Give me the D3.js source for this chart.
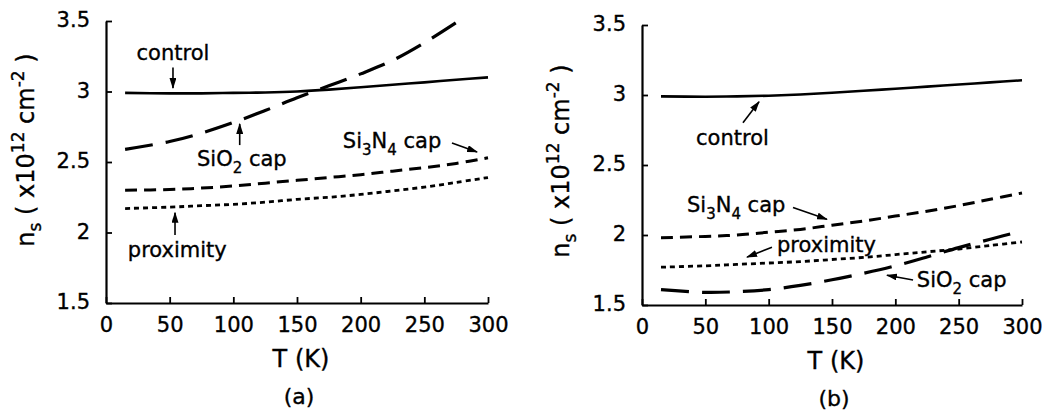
<!DOCTYPE html>
<html>
<head>
<meta charset="utf-8">
<script src="https://cdn.jsdelivr.net/npm/d3@7/dist/d3.min.js"></script>
<style>
  html, body { margin: 0; padding: 0; background: #fff; }
  svg { display: block; }
  text { font-family: "DejaVu Sans", sans-serif; fill: #000; stroke: #000; stroke-width: 0.35px; }
</style>
</head>
<body>
<svg id="chart" width="1045" height="418"></svg>
<script>
// ---------- data ----------
const temps = [15, 50, 75, 100, 125, 150, 175, 200, 225, 250, 275, 300];
const tempsSiO2A = [15, 50, 75, 100, 125, 150, 175, 200, 225, 250, 277];

const controlA   = [2.99, 2.987, 2.987, 2.99, 2.993, 3.0, 3.013, 3.03, 3.048, 3.065, 3.083, 3.10];
const sio2A      = [2.59, 2.645, 2.705, 2.78, 2.865, 2.955, 3.04, 3.125, 3.22, 3.345, 3.50];
const si3n4A     = [2.30, 2.305, 2.315, 2.33, 2.35, 2.37, 2.39, 2.41, 2.435, 2.46, 2.49, 2.53];
const proximityA = [2.17, 2.18, 2.19, 2.20, 2.215, 2.235, 2.25, 2.27, 2.295, 2.322, 2.355, 2.39];

const controlB   = [2.99, 2.988, 2.99, 2.995, 3.004, 3.016, 3.03, 3.045, 3.06, 3.075, 3.09, 3.105];
const si3n4B     = [1.98, 1.99, 2.00, 2.02, 2.04, 2.07, 2.10, 2.135, 2.17, 2.21, 2.255, 2.30];
const proximityB = [1.77, 1.78, 1.79, 1.80, 1.81, 1.825, 1.84, 1.86, 1.88, 1.90, 1.925, 1.95];
const sio2B      = [1.61, 1.59, 1.595, 1.61, 1.64, 1.68, 1.727, 1.78, 1.843, 1.91, 1.97, 2.03];

const xTicks = [0, 50, 100, 150, 200, 250, 300];
const xTickLabels = ["0", "50", "100", "150", "200", "250", "300"];
const yTicks = [1.5, 2, 2.5, 3, 3.5];
const yTickLabels = ["1.5", "2", "2.5", "3", "3.5"];

// ---------- layout / styles ----------
const styles = {
  control:   { dash: null,    width: 2.6 },
  sio2:      { dash: "28,13", width: 3.2 },
  si3n4:     { dash: "12,7",  width: 3.0 },
  proximity: { dash: "5,4",   width: 2.8 }
};

const panels = [
  {
    id: "a", x0: 106, x1: 488, yTop: 21, yBot: 303, titleX: 34, titleY: 150,
    series: [
      { key: "control",   t: temps,      v: controlA },
      { key: "sio2",      t: tempsSiO2A, v: sio2A },
      { key: "si3n4",     t: temps,      v: si3n4A },
      { key: "proximity", t: temps,      v: proximityA }
    ],
    labels: [
      { parts: [["control"]], T: 52.6, v: 3.223, anchor: "middle" },
      { parts: [["SiO"], ["2", "sub"], [" cap"]], T: 71.5, v: 2.47, anchor: "start" },
      { parts: [["Si"], ["3", "sub"], ["N"], ["4", "sub"], [" cap"]], T: 186, v: 2.60, anchor: "start" },
      { parts: [["proximity"]], T: 56, v: 1.826, anchor: "middle" }
    ],
    arrows: [
      { T1: 52.6, v1: 3.17, T2: 52.6, v2: 3.025 },
      { T1: 105, v1: 2.62, T2: 105, v2: 2.77 },
      { T1: 271.7, v1: 2.635, T2: 291.4, v2: 2.571 },
      { T1: 54.2, v1: 1.982, T2: 54.2, v2: 2.14 }
    ]
  },
  {
    id: "b", x0: 642, x1: 1022, yTop: 25, yBot: 305, titleX: 569, titleY: 161,
    series: [
      { key: "control",   t: temps, v: controlB },
      { key: "si3n4",     t: temps, v: si3n4B },
      { key: "proximity", t: temps, v: proximityB },
      { key: "sio2",      t: temps, v: sio2B }
    ],
    labels: [
      { parts: [["control"]], T: 71.4, v: 2.646, anchor: "middle" },
      { parts: [["Si"], ["3", "sub"], ["N"], ["4", "sub"], [" cap"]], T: 35.5, v: 2.162, anchor: "start" },
      { parts: [["proximity"]], T: 106.6, v: 1.877, anchor: "start" },
      { parts: [["SiO"], ["2", "sub"], [" cap"]], T: 217, v: 1.628, anchor: "start" }
    ],
    arrows: [
      { T1: 79.7, v1: 2.802, T2: 92.4, v2: 2.952 },
      { T1: 119.2, v1: 2.197, T2: 146, v2: 2.112 },
      { T1: 102.6, v1: 1.913, T2: 82.9, v2: 1.842 },
      { T1: 214, v1: 1.678, T2: 193.4, v2: 1.713 }
    ]
  }
];

const svg = d3.select("#chart");
svg.append("rect").attr("width", 1045).attr("height", 418).attr("fill", "#fff");

const defs = svg.append("defs");
defs.append("marker")
  .attr("id", "arrow")
  .attr("markerUnits", "userSpaceOnUse")
  .attr("viewBox", "0 0 11 7")
  .attr("refX", 10).attr("refY", 3.5)
  .attr("markerWidth", 11).attr("markerHeight", 7)
  .attr("orient", "auto")
  .append("path")
  .attr("d", "M0,0 L11,3.5 L0,7 Z")
  .attr("fill", "#000");

panels.forEach(p => {
  const x = d3.scaleLinear().domain([0, 300]).range([p.x0, p.x1]);
  const y = d3.scaleLinear().domain([1.5, 3.5]).range([p.yBot, p.yTop]);
  const g = svg.append("g");

  // axes
  const xAxis = d3.axisBottom(x)
    .tickValues(xTicks)
    .tickFormat((d, i) => xTickLabels[i])
    .tickSizeInner(-6).tickSizeOuter(0).tickPadding(14);
  const yAxis = d3.axisLeft(y)
    .tickValues(yTicks)
    .tickFormat((d, i) => yTickLabels[i])
    .tickSizeInner(-6).tickSizeOuter(0).tickPadding(16);

  const gx = g.append("g").attr("transform", `translate(0,${p.yBot})`).call(xAxis);
  const gy = g.append("g").attr("transform", `translate(${p.x0},0)`).call(yAxis);
  [gx, gy].forEach(ax => {
    ax.selectAll(".domain").attr("stroke", "#000").attr("stroke-width", 2.2);
    ax.selectAll(".tick line").attr("stroke", "#000").attr("stroke-width", 1.8);
    ax.selectAll(".tick text")
      .attr("font-family", "DejaVu Sans, sans-serif")
      .attr("font-size", 21).attr("fill", "#000");
  });
  gx.selectAll(".tick text").attr("dy", "0.71em");
  gy.selectAll(".tick text").attr("dy", "0.28em");

  // series
  p.series.forEach(s => {
    const st = styles[s.key];
    const pts = s.t.map((t, i) => [t, s.v[i]]);
    g.append("path")
      .datum(pts)
      .attr("fill", "none")
      .attr("stroke", "#000")
      .attr("stroke-width", st.width)
      .attr("stroke-dasharray", st.dash)
      .attr("d", d3.line().x(d => x(d[0])).y(d => y(d[1])).curve(d3.curveCatmullRom.alpha(0.5)));
  });

  // annotation labels
  p.labels.forEach(l => {
    const t = g.append("text")
      .attr("x", x(l.T)).attr("y", y(l.v))
      .attr("font-size", 21)
      .attr("text-anchor", l.anchor);
    let shifted = false;
    l.parts.forEach(part => {
      const ts = t.append("tspan").text(part[0]);
      if (part[1] === "sub") {
        ts.attr("dy", 7).attr("font-size", 15);
        shifted = true;
      } else if (shifted) {
        ts.attr("dy", -7);
        shifted = false;
      }
    });
  });

  // arrows
  p.arrows.forEach(a => {
    g.append("line")
      .attr("x1", x(a.T1)).attr("y1", y(a.v1))
      .attr("x2", x(a.T2)).attr("y2", y(a.v2))
      .attr("stroke", "#000").attr("stroke-width", 1.6)
      .attr("marker-end", "url(#arrow)");
  });

  // axis titles
  g.append("text")
    .attr("x", (p.x0 + p.x1) / 2 + 4).attr("y", p.yBot + 64)
    .attr("text-anchor", "middle").attr("font-size", 24)
    .text("T (K)");
  g.append("text")
    .attr("x", (p.x0 + p.x1) / 2 + 2).attr("y", p.yBot + 101)
    .attr("text-anchor", "middle").attr("font-size", 22)
    .text(`(${p.id})`);

  const yt = g.append("text")
    .attr("transform", `translate(${p.titleX},${p.titleY}) rotate(-90)`)
    .attr("text-anchor", "middle").attr("font-size", 24);
  yt.append("tspan").text("n");
  yt.append("tspan").attr("dy", 7).attr("font-size", 17).text("s");
  yt.append("tspan").attr("dy", -7).text(" ( x10");
  yt.append("tspan").attr("dy", -10).attr("font-size", 17).text("12");
  yt.append("tspan").attr("dy", 10).text(" cm");
  yt.append("tspan").attr("dy", -10).attr("font-size", 17).text("-2");
  yt.append("tspan").attr("dy", 10).text(" )");
});
</script>
</body>
</html>
